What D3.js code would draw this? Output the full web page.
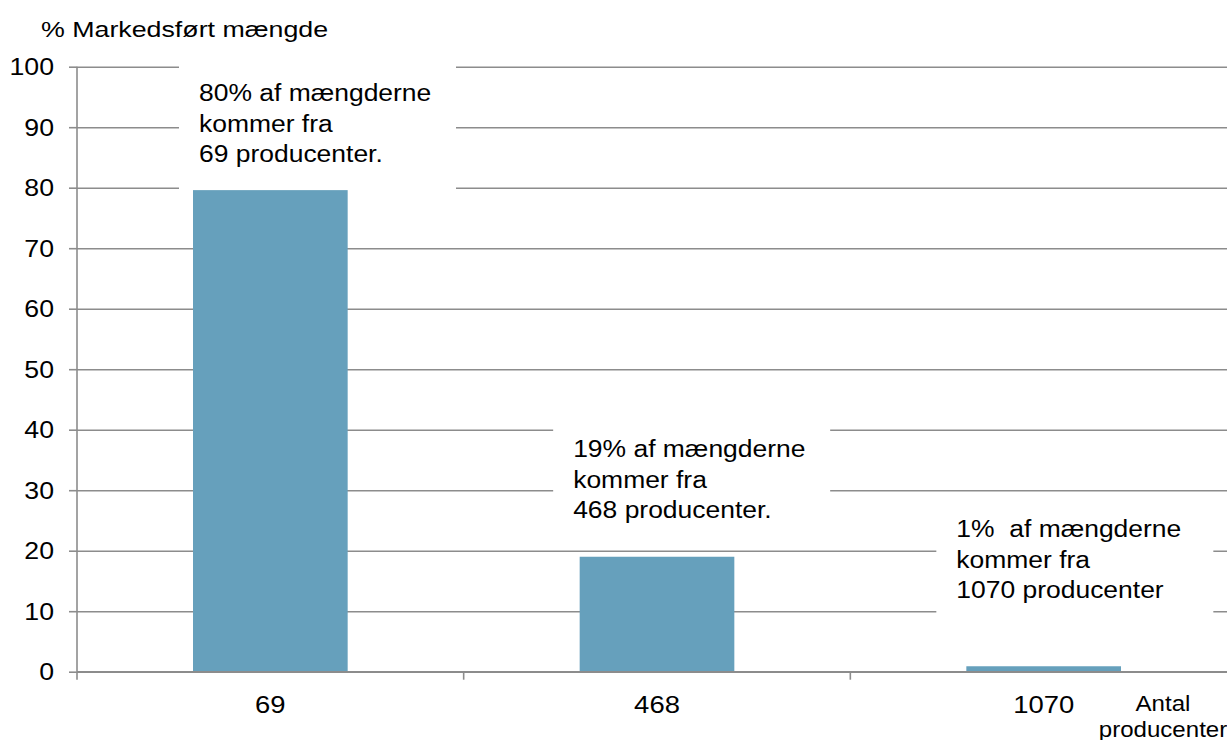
<!DOCTYPE html>
<html>
<head>
<meta charset="utf-8">
<script src="https://cdn.jsdelivr.net/npm/d3@7"></script>
<style>
  body { margin: 0; background: #fff; }
  text { font-family: "Liberation Sans", Arial, sans-serif; fill: #000; white-space: pre; }
</style>
</head>
<body>
<script>
// data
const categories = ['69', '468', '1070']
const shares = [79.6, 19, 0.9]
const yTicks = [0, 10, 20, 30, 40, 50, 60, 70, 80, 90, 100]
const notes = [
  ['80% af mængderne', 'kommer fra', '69 producenter.'],
  ['19% af mængderne', 'kommer fra', '468 producenter.'],
  ['1%  af mængderne', 'kommer fra', '1070 producenter']
]
const yTitle = '% Markedsført mængde'
const xTitle = ['Antal', 'producenter']

// layout
const width = 1227, height = 740
const plot = {left: 77, right: 1237, top: 66.7, bottom: 671.7}
const grey = '#8c8c8c'
// note boxes: x offset from band start, top in data units
const noteBox = [{dx: 102, top: 101}, {dx: 89.5, top: 42.1}, {dx: 86, top: 28.9}]

const svg = d3.select('body').append('svg')
    .attr('width', width)
    .attr('height', height)

const x = d3.scaleBand()
    .domain(categories)
    .range([plot.left, plot.right])
    .paddingInner(0.6)
    .paddingOuter(0.3)

const y = d3.scaleLinear()
    .domain([0, 100])
    .range([plot.bottom, plot.top])

// gridlines
svg.append('g')
    .attr('transform', 'translate(' + plot.left + ',0)')
    .call(d3.axisLeft(y).tickValues(yTicks).tickSize(-(plot.right - plot.left)).tickFormat(''))
    .call(g => g.select('.domain').remove())
    .selectAll('line')
      .attr('stroke', grey)
      .attr('stroke-width', 1.6)

// white boxes behind the notes
const bandStart = i => plot.left + i * x.step()
svg.selectAll('.notebox').data(notes)
  .enter()
  .append('rect')
    .attr('x', (d, i) => bandStart(i) + noteBox[i].dx)
    .attr('y', (d, i) => y(noteBox[i].top))
    .attr('width', 277)
    .attr('height', 129)
    .attr('fill', '#fff')

// bars
svg.selectAll('.bar').data(shares)
  .enter()
  .append('rect')
    .attr('x', (d, i) => x(categories[i]))
    .attr('y', d => y(d))
    .attr('width', x.bandwidth())
    .attr('height', d => plot.bottom - y(d))
    .attr('fill', '#66a0bc')

// y axis
const yAxis = svg.append('g')
    .attr('transform', 'translate(' + plot.left + ',0)')
    .call(d3.axisLeft(y).tickValues(yTicks).tickSize(8).tickPadding(15))
yAxis.selectAll('line, path').attr('stroke', grey).attr('stroke-width', 1.6)
yAxis.select('.domain').attr('d', 'M0,' + plot.top + 'V' + plot.bottom)
yAxis.selectAll('text')
    .attr('font-size', 23)
    .attr('font-family', '"Liberation Sans", Arial, sans-serif')
    .attr('fill', '#000')
    .attr('dy', '0.36em')
    .attr('transform', function() {
      const tx = +d3.select(this).attr('x')
      d3.select(this).attr('x', 0)
      return 'translate(' + tx + ',0) scale(1.16,1)'
    })

// x axis: line, boundary ticks, labels
svg.append('line')
    .attr('x1', plot.left).attr('x2', width)
    .attr('y1', plot.bottom).attr('y2', plot.bottom)
    .attr('stroke', grey).attr('stroke-width', 1.6)

svg.selectAll('.xtick').data(d3.range(categories.length + 1))
  .enter()
  .append('line')
    .attr('x1', i => bandStart(i)).attr('x2', i => bandStart(i))
    .attr('y1', plot.bottom).attr('y2', plot.bottom + 8)
    .attr('stroke', grey).attr('stroke-width', 1.6)

svg.selectAll('.xlabel').data(categories)
  .enter()
  .append('text')
    .attr('text-anchor', 'middle')
    .attr('font-size', 24.5)
    .attr('transform', d => 'translate(' + (x(d) + x.bandwidth() / 2) + ',' + (plot.bottom + 41.5) + ') scale(1.12,1)')
    .text(d => d)

// axis titles
svg.append('text')
    .attr('font-size', 22.5)
    .attr('transform', 'translate(41,36.5) scale(1.19,1)')
    .text(yTitle)

svg.selectAll('.xtitle').data(xTitle)
  .enter()
  .append('text')
    .attr('text-anchor', 'middle')
    .attr('font-size', 21.5)
    .attr('transform', (d, i) => 'translate(1163,' + (711 + i * 25.5) + ') scale(1.12,1)')
    .text(d => d)

// notes
notes.forEach((lines, i) => {
  const bx = bandStart(i) + noteBox[i].dx + 20
  const by = y(noteBox[i].top) + 40.5
  svg.append('g')
      .selectAll('text').data(lines)
      .enter()
      .append('text')
        .attr('font-size', 24.5)
        .attr('transform', (d, j) => 'translate(' + bx + ',' + (by + j * 30.5) + ') scale(1.08,1)')
        .text(d => d)
})
</script>
</body>
</html>
